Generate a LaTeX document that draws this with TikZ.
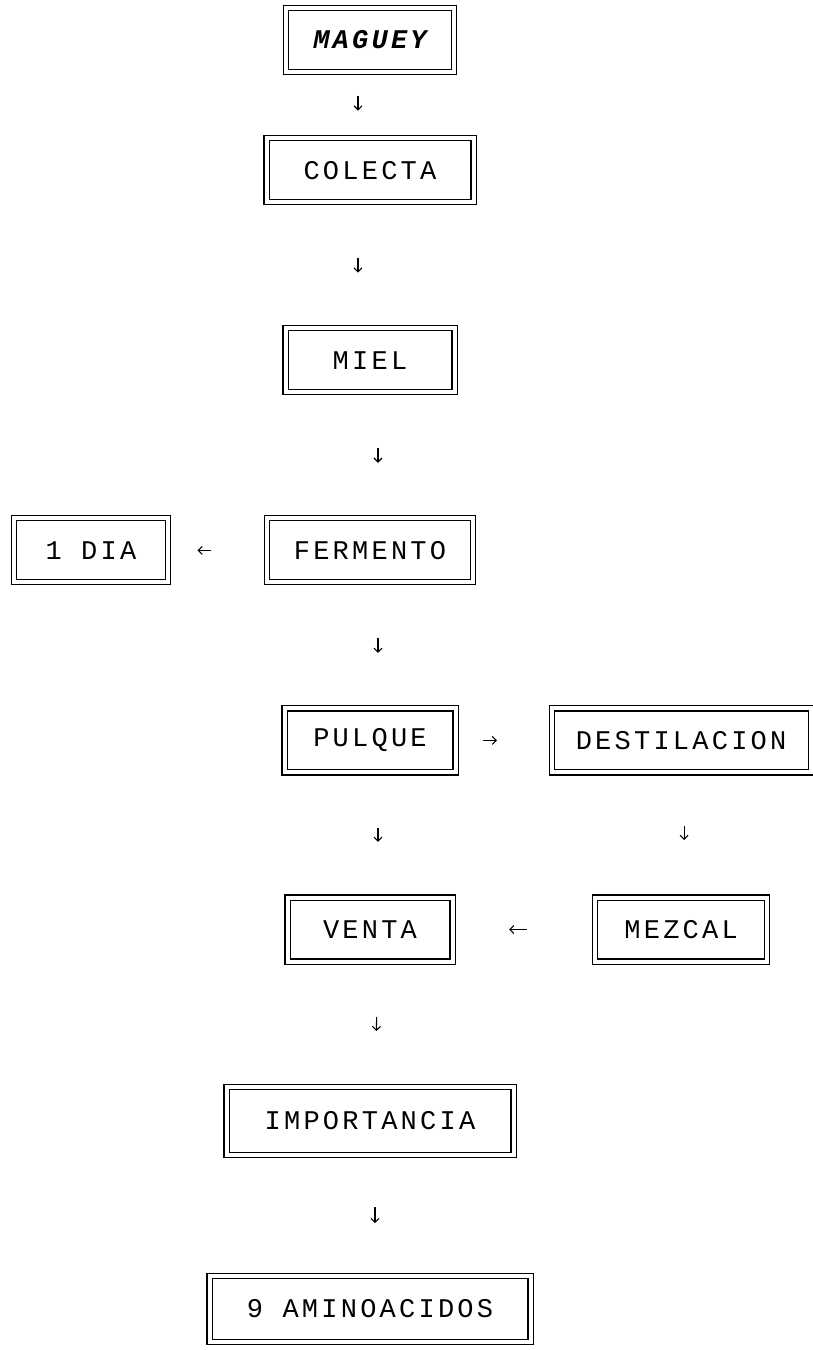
\documentclass[tikz,border=0pt]{standalone}
\usepackage{fontspec}
\newfontfamily\typer[LetterSpace=12]{Liberation Mono}
\usetikzlibrary{arrows.meta,positioning}

\begin{document}
\begin{tikzpicture}[
  x=1pt, y=1pt,
  font=\typer\fontsize{27}{30}\selectfont,
  box/.style={
    draw=black,
    double,
    double distance=4pt,
    line width=1.1pt,
    align=center,
    minimum height=64pt,
    inner sep=4pt
  },
  arrow/.style={-{Straight Barb[length=4pt,width=8pt]}, line width=1.1pt},
  gap/.style={shorten <=#1, shorten >=#1}
]
\useasboundingbox (0,0) rectangle (813,-1350);

\node[box, minimum width=168pt] (maguey) at (370,-40) {\bfseries\itshape MAGUEY};
\node[box, minimum width=207pt, below=65pt of maguey] (colecta) {COLECTA};
\node[box, minimum width=169pt, below=125pt of colecta] (miel) {MIEL};
\node[box, minimum width=206pt, below=125pt of miel] (fermento) {FERMENTO};
\node[box, minimum width=154pt, left=98pt of fermento] (dia) {1 DIA};
\node[box, minimum width=171pt, below=125pt of fermento] (pulque) {PULQUE};
\node[box, minimum width=259pt, right=95pt of pulque] (destilacion) {DESTILACION};
\node[box, minimum width=165pt, below=124pt of pulque] (venta) {VENTA};
\node[box, minimum width=172pt, below=124pt of destilacion] (mezcal) {MEZCAL};
\node[box, minimum width=287pt, minimum height=68pt, below=124pt of venta] (importancia) {IMPORTANCIA};
\node[box, minimum width=321pt, minimum height=66pt, below=120pt of importancia] (aminoacidos) {9 AMINOACIDOS};

\draw[arrow, shorten <=23pt, shorten >=27pt] ([xshift=-12pt]maguey.south) -- ([xshift=-12pt]colecta.north);
\draw[arrow, gap=55pt] ([xshift=-12pt]colecta.south) -- ([xshift=-12pt]miel.north);
\draw[arrow, gap=55pt] ([xshift=8pt]miel.south) -- ([xshift=8pt]fermento.north);
\draw[arrow, shorten <=55pt, shorten >=29pt] (fermento) -- (dia);
\draw[arrow, gap=55pt] ([xshift=8pt]fermento.south) -- ([xshift=8pt]pulque.north);
\draw[arrow, shorten <=27pt, shorten >=54pt] (pulque) -- (destilacion);
\draw[arrow, gap=55pt] ([xshift=8pt]pulque.south) -- ([xshift=8pt]venta.north);
\draw[arrow, shorten <=53pt, shorten >=57pt] ([xshift=3pt]destilacion.south) -- ([xshift=3pt]destilacion.south |- mezcal.north);
\draw[arrow, shorten <=68pt, shorten >=56pt] (mezcal) -- (venta);
\draw[arrow, gap=55pt] ([xshift=8pt]venta.south) -- ([xshift=5pt]importancia.north);
\draw[arrow, gap=52pt] ([xshift=5pt]importancia.south) -- ([xshift=5pt]aminoacidos.north);

\end{tikzpicture}
\end{document}
